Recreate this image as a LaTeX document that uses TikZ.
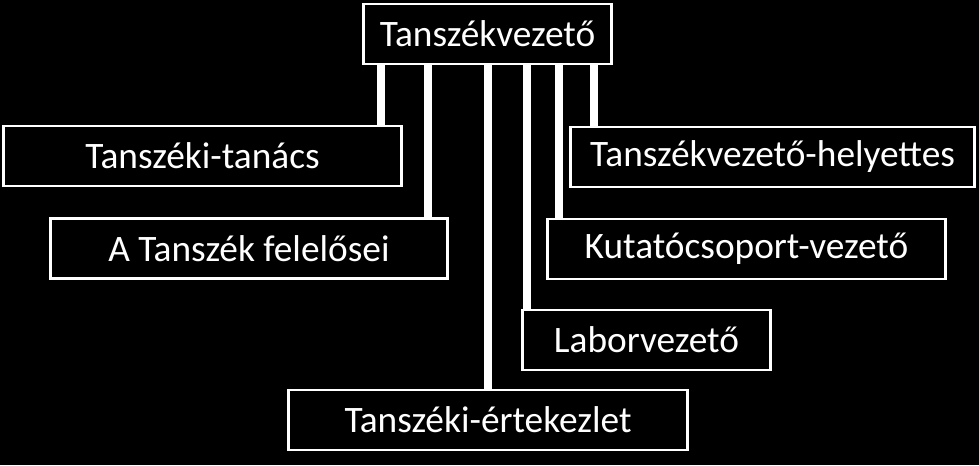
\documentclass[tikz,border=0pt]{standalone}
\usepackage{fontspec}
\setmainfont{Carlito}
\begin{document}
\begin{tikzpicture}[x=0.75pt,y=-0.75pt,
  doboz/.style={draw=white, line width=2.2pt, fill=black, text=white, font=\fontsize{28}{32}\selectfont, minimum height=45pt, inner sep=0pt},
  vonal/.style={white, line width=6pt}]

% hatter
\fill[black] (0,0) rectangle (979,465);

% dobozok
\node[doboz, minimum width=186pt] (vezeto) at (487.5,34) {Tansz\'ekvezet\H{o}};
\node[doboz, minimum width=298pt] (tanacs) at (202.5,156) {Tansz\'eki-tan\'acs};
\node[doboz, minimum width=298pt] (felelos) at (249,248.5) {A Tansz\'ek felel\H{o}sei};
\node[doboz, minimum width=303pt] (helyettes) at (772.5,157) {Tansz\'ekvezet\H{o}-helyettes};
\node[doboz, minimum width=298pt] (kutato) at (746.5,249) {Kutat\'ocsoport-vezet\H{o}};
\node[doboz, minimum width=186pt] (labor) at (646.5,340) {Laborvezet\H{o}};
\node[doboz, minimum width=299pt] (ertekezlet) at (488,420) {Tansz\'eki-\'ertekezlet};

% vonalak helye
\coordinate (v1) at (381,0);
\coordinate (v2) at (428,0);
\coordinate (v3) at (488,0);
\coordinate (v4) at (527,0);
\coordinate (v5) at (559,0);
\coordinate (v6) at (594,0);

% kapcsolatok
\draw[vonal] (v1 |- vezeto.south) -- (v1 |- tanacs.north);
\draw[vonal] (v2 |- vezeto.south) -- (v2 |- felelos.north);
\draw[vonal] (v3 |- vezeto.south) -- (v3 |- ertekezlet.north);
\draw[vonal] (v4 |- vezeto.south) -- (v4 |- labor.north);
\draw[vonal] (v5 |- vezeto.south) -- (v5 |- kutato.north);
\draw[vonal] (v6 |- vezeto.south) -- (v6 |- helyettes.north);

\end{tikzpicture}
\end{document}
